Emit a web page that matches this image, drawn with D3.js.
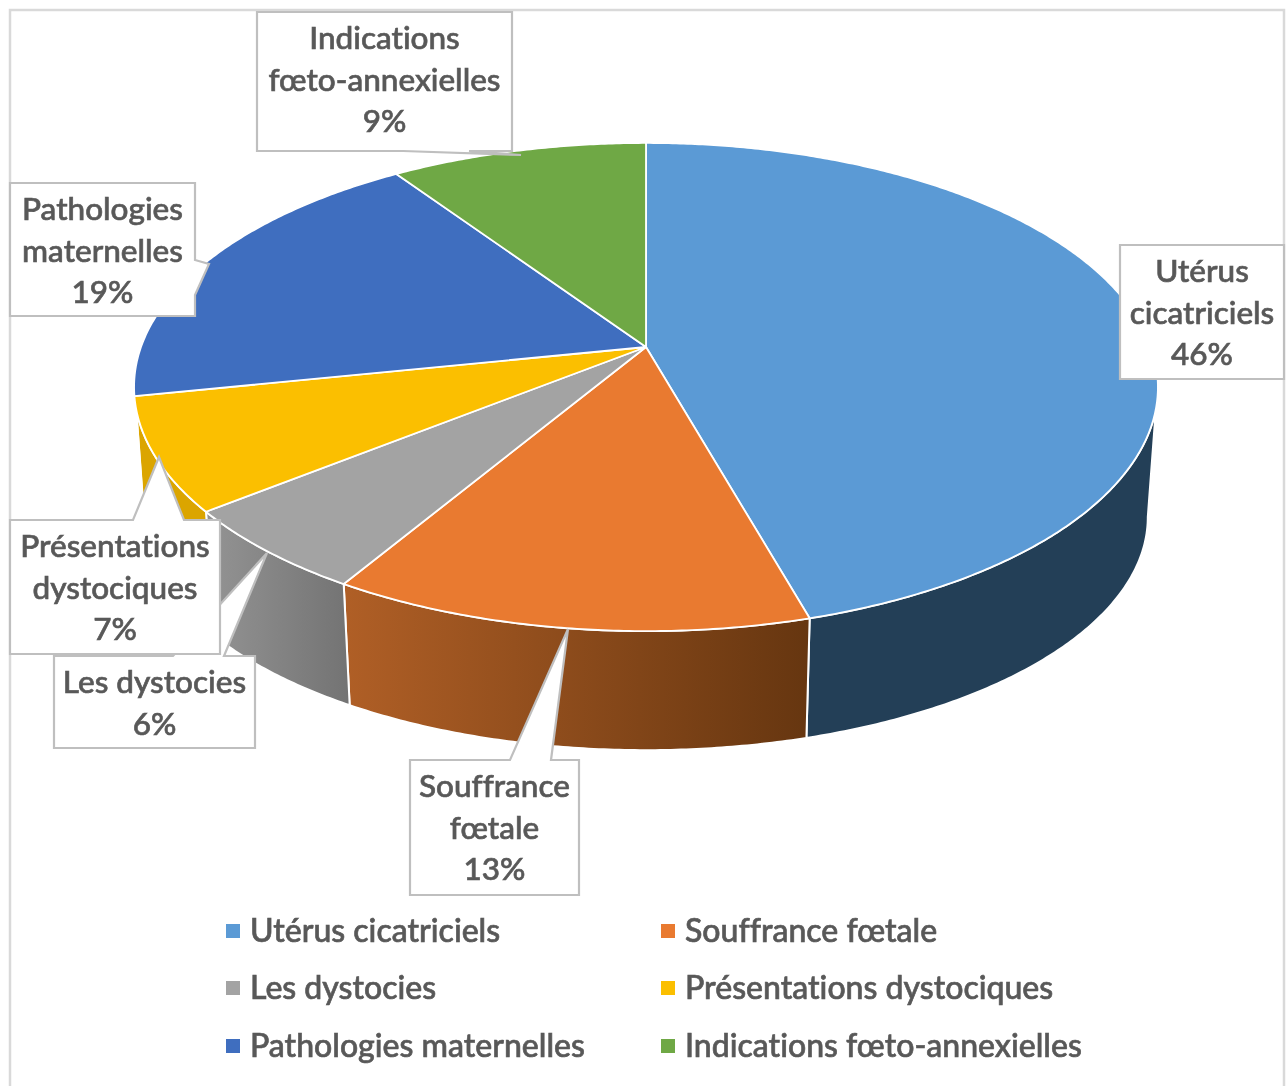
<!DOCTYPE html>
<html lang="fr">
<head>
<meta charset="utf-8">
<title>Indications</title>
<script src="https://cdn.jsdelivr.net/npm/d3@7"></script>
<style>
html,body{margin:0;padding:0;background:#fff;overflow:hidden}
svg{display:block}
text{font-family:Lato,"Open Sans",sans-serif;font-weight:500;fill:#595959;stroke:#595959;stroke-width:.65px;font-variant-ligatures:none}
</style>
</head>
<body>
<svg id="chart" width="1288" height="1086"></svg>
<script>
// ---- data ----
const categories = ["Utérus cicatriciels","Souffrance fœtale","Les dystocies","Présentations dystociques","Pathologies maternelles","Indications fœto-annexielles"];
const shares = [45.6, 13.0, 5.7, 7.49, 18.72, 9.49];          // angular share, displayed rounded
const labelLines = [["Utérus","cicatriciels"],["Souffrance","fœtale"],["Les dystocies"],["Présentations","dystociques"],["Pathologies","maternelles"],["Indications","fœto-annexielles"]];
const topColors = ["#5b9ad5","#e97a30","#a3a3a3","#fbbf00","#3f6ebf","#6fa845"];
const wallFrom = ["#233f57","#b05f26","#949494","#dba500","#2c4f8a","#4f7a31"];
const wallTo   = ["#233f57","#663610","#737373","#dba500","#2c4f8a","#4f7a31"];

// ---- layout of the call-outs (not data): box, pointer ----
const callouts = [
  {i:2,x:54,y:656,w:201,h:92,ptr:[[173,656],[267,553],[224,656]]},
  {i:3,x:10,y:520,w:210,h:134,ptr:[[133,520],[159,457],[184,520]]},
  {i:0,x:1120,y:245,w:164,h:134,ptr:null},
  {i:1,x:410,y:760,w:169,h:135,ptr:[[510,760],[568,629],[551,760]]},
  {i:4,x:10,y:183,w:185,h:133,ptr:[[195,260],[209,264],[195,295]]},
  {i:5,x:257,y:12,w:255,h:139,ptr:[[469,151],[521,155],[403,151]]}
];

const svg = d3.select("#chart");
const color = d3.scaleOrdinal().domain(categories).range(topColors);

// perspective disc
const cx = 646, k = 0.164, deg = Math.PI/180;
const planes = {
  top:   {a:505, b:237.5, cy:347},
  floor: {a:495, b:226.7, cy:479}
};
function proj(t, p){
  const X = Math.sin(t), Y = -Math.cos(t), d = 1 - k*Y;
  return [cx + p.a*X/d, p.cy + p.b*Y/d];
}
function arcPts(t0, t1, p){
  const n = Math.max(2, Math.ceil(Math.abs(t1-t0)/(0.5*deg)));
  return d3.range(n+1).map(i => proj(t0 + (t1-t0)*i/n, p));
}
const line = d3.line();

const pie = d3.pie().sort(null).startAngle(0).endAngle(2*Math.PI);
const arcs = pie(shares);

svg.append("rect").attr("x",10).attr("y",10).attr("width",1274).attr("height",1090)
   .attr("fill","#fff").attr("stroke","#d9d9d9").attr("stroke-width",2.5);

const defs = svg.append("defs");
const blur = defs.append("filter").attr("id","soft").attr("x","-5%").attr("y","-5%").attr("width","110%").attr("height","110%");
blur.append("feGaussianBlur").attr("stdDeviation",0.45);

// silhouette limits of the side wall
const topMin = 104.5*deg, topMax = 255.5*deg, floorMin = 99.4*deg, floorMax = 260.6*deg;

const walls = svg.append("g").attr("class","walls");
arcs.forEach((a,i)=>{
  const t0 = Math.max(a.startAngle, topMin), t1 = Math.min(a.endAngle, topMax);
  const f0 = Math.max(a.startAngle, floorMin), f1 = Math.min(a.endAngle, floorMax);
  if (t1 <= t0 && f1 <= f0) return;
  const pts = arcPts(t0,t1,planes.top).concat(arcPts(f1,f0,planes.floor));
  const xs = d3.extent(pts, d=>d[0]);
  const g = defs.append("linearGradient").attr("id","wall"+i).attr("gradientUnits","userSpaceOnUse")
    .attr("x1",xs[0]).attr("x2",xs[1]).attr("y1",0).attr("y2",0);
  g.append("stop").attr("offset",0).attr("stop-color",wallFrom[i]);
  g.append("stop").attr("offset",1).attr("stop-color",wallTo[i]);
  walls.append("path").attr("d",line(pts)+"Z").attr("fill",`url(#wall${i})`)
    .attr("stroke","#fff").attr("stroke-width",2).attr("stroke-linejoin","round");
});

const center = [cx, planes.top.cy];
svg.append("g").attr("class","slices").selectAll("path").data(arcs).join("path")
  .attr("d",a=>line([center].concat(arcPts(a.startAngle,a.endAngle,planes.top)))+"Z")
  .attr("fill",(a,i)=>color(categories[i]))
  .attr("stroke","#fff").attr("stroke-width",1.8).attr("stroke-linejoin","round");

// call-outs
const lh = 41.5;
const boxes = svg.append("g").attr("class","callouts");
callouts.forEach(c=>{
  let outline = [[c.x,c.y],[c.x+c.w,c.y],[c.x+c.w,c.y+c.h],[c.x,c.y+c.h]];
  if (c.ptr){
    const [A] = c.ptr;
    if (A[1] === c.y) outline = [[c.x,c.y],...c.ptr,[c.x+c.w,c.y],[c.x+c.w,c.y+c.h],[c.x,c.y+c.h]];
    else if (A[0] === c.x+c.w) outline = [[c.x,c.y],[c.x+c.w,c.y],...c.ptr,[c.x+c.w,c.y+c.h],[c.x,c.y+c.h]];
    else outline = [[c.x,c.y],[c.x+c.w,c.y],[c.x+c.w,c.y+c.h],...c.ptr,[c.x,c.y+c.h]];
  }
  boxes.append("path").attr("d",line(outline)+"Z").attr("fill","#fff")
    .attr("stroke","#bfbfbf").attr("stroke-width",2.2).attr("stroke-linejoin","miter");
  const lines = labelLines[c.i].concat(d3.format(".0f")(shares[c.i])+"%");
  boxes.append("text").attr("filter","url(#soft)").attr("text-anchor","middle").attr("font-size",31.5)
    .selectAll("tspan").data(lines).join("tspan")
    .attr("x",c.x+c.w/2).attr("y",(d,j)=>c.y+37+j*lh).text(d=>d);
});

// legend
const legendX = d3.scaleOrdinal().domain([0,1]).range([226,661]);
const legendY = d3.scaleOrdinal().domain([0,1,2]).range([931,988,1046]);
const legend = svg.append("g").attr("class","legend").selectAll("g").data(categories).join("g")
  .attr("transform",(d,i)=>`translate(${legendX(i%2)},${legendY(Math.floor(i/2))})`);
legend.append("rect").attr("x",0).attr("y",-7).attr("width",14).attr("height",14).attr("fill",d=>color(d));
legend.append("text").attr("filter","url(#soft)").attr("x",24).attr("y",11).attr("font-size",32).text(d=>d);
</script>
</body>
</html>
